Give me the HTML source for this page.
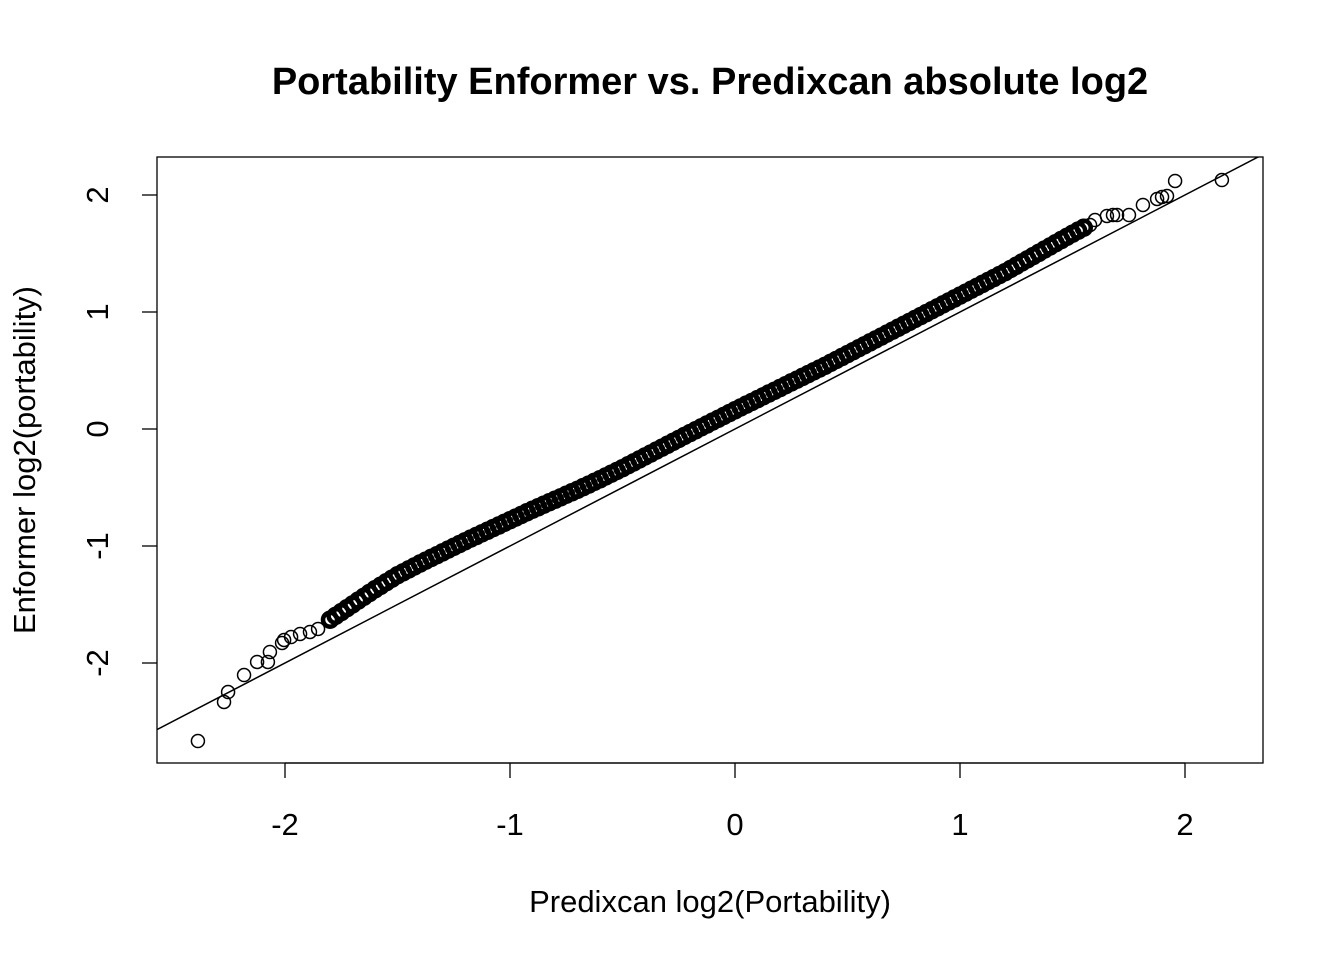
<!DOCTYPE html>
<html><head><meta charset="utf-8">
<style>
html,body{margin:0;padding:0;background:#fff;}
svg{display:block;font-family:"Liberation Sans",Arial,sans-serif;}
</style></head>
<body>
<svg id="chart" width="1344" height="960" viewBox="0 0 1344 960">
<text x="710" y="94" text-anchor="middle" font-size="38" font-weight="bold">Portability Enformer vs. Predixcan absolute log2</text>
<text x="710" y="912" text-anchor="middle" font-size="31">Predixcan log2(Portability)</text>
<text transform="translate(35,460) rotate(-90)" text-anchor="middle" font-size="31">Enformer log2(portability)</text>
<rect x="157" y="157" width="1106" height="606" fill="none" stroke="#000" stroke-width="1.3"/>
<g id="axes"></g>
<g id="refline"></g>
<g id="points"></g>
</svg>
<script>
const xTicks = [-2, -1, 0, 1, 2];
const yTicks = [-2, -1, 0, 1, 2];
const xTickLabels = ["-2", "-1", "0", "1", "2"];
const yTickLabels = ["-2", "-1", "0", "1", "2"];
const outlierX = [-2.387,-2.271,-2.253,-2.182,-2.124,-2.076,-2.067,-2.013,-2.004,-1.973,-1.933,-1.889,-1.853,1.578,1.600,1.653,1.680,1.698,1.751,1.813,1.876,1.898,1.920,1.956,2.164];
const outlierY = [-2.667,-2.333,-2.248,-2.103,-1.991,-1.991,-1.906,-1.829,-1.803,-1.778,-1.752,-1.735,-1.709,1.744,1.786,1.821,1.829,1.829,1.829,1.915,1.966,1.983,1.991,2.120,2.128];
const bandX = [-1.800,-1.775,-1.750,-1.725,-1.700,-1.675,-1.650,-1.625,-1.600,-1.575,-1.550,-1.525,-1.500,-1.475,-1.450,-1.425,-1.400,-1.375,-1.350,-1.325,-1.300,-1.275,-1.250,-1.225,-1.200,-1.175,-1.150,-1.125,-1.100,-1.075,-1.050,-1.025,-1.000,-0.975,-0.950,-0.925,-0.900,-0.875,-0.850,-0.825,-0.800,-0.775,-0.750,-0.725,-0.700,-0.675,-0.650,-0.625,-0.600,-0.575,-0.550,-0.525,-0.500,-0.475,-0.450,-0.425,-0.400,-0.375,-0.350,-0.325,-0.300,-0.275,-0.250,-0.225,-0.200,-0.175,-0.150,-0.125,-0.100,-0.075,-0.050,-0.025,0.000,0.025,0.050,0.075,0.100,0.125,0.150,0.175,0.200,0.225,0.250,0.275,0.300,0.325,0.350,0.375,0.400,0.425,0.450,0.475,0.500,0.525,0.550,0.575,0.600,0.625,0.650,0.675,0.700,0.725,0.750,0.775,0.800,0.825,0.850,0.875,0.900,0.925,0.950,0.975,1.000,1.025,1.050,1.075,1.100,1.125,1.150,1.175,1.200,1.225,1.250,1.275,1.300,1.325,1.350,1.375,1.400,1.425,1.450,1.475,1.500,1.525,1.550];
const bandY = [-1.630,-1.597,-1.565,-1.532,-1.500,-1.467,-1.435,-1.402,-1.370,-1.340,-1.310,-1.280,-1.250,-1.225,-1.200,-1.175,-1.150,-1.126,-1.102,-1.079,-1.055,-1.031,-1.007,-0.984,-0.960,-0.937,-0.915,-0.892,-0.870,-0.847,-0.825,-0.802,-0.780,-0.757,-0.735,-0.712,-0.690,-0.669,-0.647,-0.626,-0.605,-0.584,-0.562,-0.541,-0.520,-0.497,-0.475,-0.452,-0.430,-0.406,-0.382,-0.359,-0.335,-0.310,-0.285,-0.260,-0.235,-0.210,-0.185,-0.160,-0.135,-0.110,-0.085,-0.060,-0.035,-0.011,0.014,0.038,0.063,0.087,0.111,0.136,0.160,0.184,0.208,0.231,0.255,0.279,0.303,0.326,0.350,0.374,0.398,0.421,0.445,0.469,0.493,0.516,0.540,0.565,0.590,0.615,0.640,0.665,0.690,0.715,0.740,0.765,0.790,0.815,0.840,0.865,0.890,0.915,0.940,0.965,0.990,1.015,1.040,1.065,1.090,1.115,1.140,1.165,1.190,1.215,1.240,1.265,1.290,1.315,1.340,1.368,1.395,1.423,1.450,1.478,1.505,1.533,1.560,1.588,1.615,1.642,1.669,1.695,1.720];
const refLine = [0, 1]; // intercept, slope

const NS = "http://www.w3.org/2000/svg";
const X0 = 157, X1 = 1263, Y0 = 157, Y1 = 763;
function sx(v){ return 735 + v * 225; }
function sy(v){ return 429 - v * 117; }

const axes = document.getElementById('axes');
function mk(tag, attrs, parent){
  const e = document.createElementNS(NS, tag);
  for (const k in attrs) e.setAttribute(k, attrs[k]);
  parent.appendChild(e);
  return e;
}
mk('line', {x1:sx(xTicks[0]), x2:sx(xTicks[xTicks.length-1]), y1:Y1, y2:Y1, stroke:'#000','stroke-width':1.3}, axes);
xTicks.forEach((t,i)=>{
  const l = mk('line', {x1:sx(t), x2:sx(t), y1:Y1, y2:Y1+15, stroke:'#000','stroke-width':1.3}, axes);
  
  
  const tx = mk('text', {x:sx(t), y:835, 'text-anchor':'middle','font-size':31}, axes);
  tx.textContent = xTickLabels[i];
  
  
});
yTicks.forEach((t,i)=>{
  const l = mk('line', {x1:X0-15, x2:X0, y1:sy(t), y2:sy(t), stroke:'#000','stroke-width':1.3}, axes);
  
  
  const tx = mk('text', {transform:'translate(108,'+sy(t)+') rotate(-90)', 'text-anchor':'middle','font-size':31}, axes);
  tx.textContent = yTickLabels[i];
  
  
});

const xa = (X0-735)/225, xb = (X1-735)/225;
let pts = [[xa, refLine[0]+refLine[1]*xa],[xb, refLine[0]+refLine[1]*xb]];
const rl = mk('line', {x1:sx(pts[0][0]), y1:sy(pts[0][1]), x2:sx(pts[1][0]), y2:sy(pts[1][1]), stroke:'#000','stroke-width':1.5}, document.getElementById('refline'));


const cp = mk('clipPath', {id:'clip'}, document.getElementById('chart'));
mk('rect', {x:X0, y:Y0, width:X1-X0, height:Y1-Y0}, cp);
document.getElementById('refline').setAttribute('clip-path','url(#clip)');

const pg = document.getElementById('points');
function drawPoint(x, y, r, w){
  const c = mk('circle', {cx:sx(x), cy:sy(y), r:r, fill:'none', stroke:'#000','stroke-width':w}, pg);
  
  
}
outlierX.forEach((x,i)=>drawPoint(x, outlierY[i], 6.5, 1.5));
bandX.forEach((x,i)=>drawPoint(x, bandY[i], 7, 4.5));
</script>
</body></html>
